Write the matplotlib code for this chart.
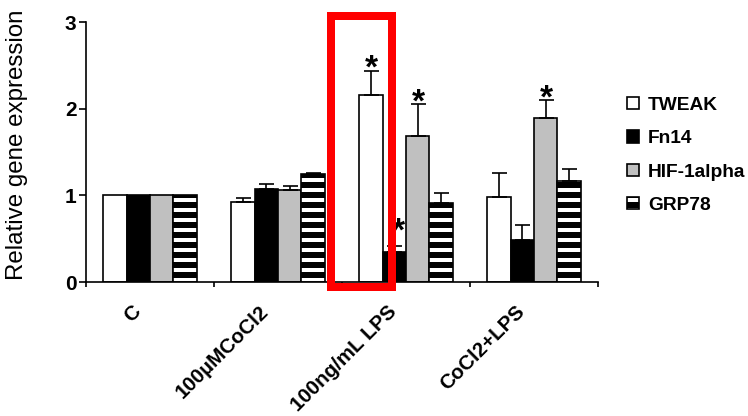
import matplotlib
matplotlib.use('agg')
import matplotlib.pyplot as plt
from matplotlib.patches import Rectangle, Patch
import numpy as np

plt.rcParams['font.family'] = ['Liberation Sans', 'DejaVu Sans']
plt.rcParams['hatch.linewidth'] = 3.6

treatments = ['C', '100\u00b5MCoCl2', '100ng/mL LPS', 'CoCl2+LPS']
genes = ['TWEAK', 'Fn14', 'HIF-1alpha', 'GRP78']

# mean relative expression, one list per gene (order follows treatments)
tweak = [1.00, 0.92, 2.16, 0.98]
fn14 = [1.00, 1.07, 0.35, 0.48]
hif1a = [1.00, 1.065, 1.68, 1.89]
grp78 = [1.00, 1.25, 0.91, 1.16]

# upper error (SD) for each bar
tweak_err = [0.0, 0.045, 0.28, 0.28]
fn14_err = [0.0, 0.06, 0.06, 0.18]
hif1a_err = [0.0, 0.045, 0.37, 0.21]
grp78_err = [0.0, 0.01, 0.12, 0.14]

# significance stars: (gene index, treatment index)
stars = [(0, 2), (1, 2), (2, 2), (2, 3)]

means = [tweak, fn14, hif1a, grp78]
errs = [tweak_err, fn14_err, hif1a_err, grp78_err]
faces = ['white', 'black', '#C0C0C0', 'white']
hatches = [None, None, None, '--']

fig = plt.figure(figsize=(748 / 120, 416 / 120), dpi=120)
ax = fig.add_axes([0.115, 0.3221, 0.6845, 0.625])

x = np.arange(len(treatments))
w = 0.183
handles = []
for i in range(len(genes)):
    pos = x + (i - 1.5) * w
    ax.bar(pos, means[i], w, color=faces[i], edgecolor='black',
           linewidth=1.0, hatch=hatches[i], zorder=2)
    up = np.array(errs[i])
    mask = up > 0
    ax.errorbar(pos[mask], np.array(means[i])[mask],
                yerr=[np.zeros(mask.sum()), up[mask]],
                fmt='none', ecolor='black', elinewidth=1.0,
                capsize=4.5, capthick=1.0, zorder=3)
    handles.append(Patch(facecolor=faces[i], edgecolor='black',
                         linewidth=1.0, hatch=hatches[i], label=genes[i]))

# the Fn14 star sits a little higher than the others
lift = {(1, 2): 8.0}
for g, t in stars:
    top = means[g][t] + errs[g][t]
    ax.annotate('*', xy=(x[t] + (g - 1.5) * w, top),
                xytext=(0.5 + (2.0 if (g, t) in lift else 0.0),
                        -4.5 + lift.get((g, t), 0.0)),
                textcoords='offset points', ha='center', va='baseline',
                fontsize=20, fontweight='bold', zorder=4)

ax.set_xlim(-0.5, 3.5)
ax.set_ylim(0, 3)
ax.set_yticks([0, 1, 2, 3])
ax.set_yticklabels(['0', '1', '2', '3'], fontsize=12.5, fontweight='bold')
ax.tick_params(axis='y', direction='out', length=4.2, width=1.0, pad=1.5)
ax.set_xticks(np.arange(-0.5, 4.0, 1.0))
ax.set_xticklabels([])
ax.tick_params(axis='x', direction='out', length=3.0, width=1.0)

for name in ['top', 'right']:
    ax.spines[name].set_visible(False)
for name in ['left', 'bottom']:
    ax.spines[name].set_linewidth(1.0)

ax.set_ylabel('Relative gene expression', fontsize=14.5)
ax.yaxis.set_label_coords(-0.113, 0.528)

# rotated category names, right end sitting just left of each group centre
for xi, lab in zip(x, treatments):
    ax.text(xi - 0.1, -0.31, lab, transform=ax.transData, rotation=45,
            rotation_mode='anchor', ha='right', va='center',
            fontsize=12.3, fontweight='bold')

# highlight box round the LPS TWEAK bar
ax.add_patch(Rectangle((1.414, -0.058), 0.477, 3.127, fill=False,
                       edgecolor='#FF0000', linewidth=4.8,
                       clip_on=False, zorder=5))

fig.legend(handles=handles, loc='upper left', bbox_to_anchor=(0.825, 0.79),
           frameon=False, prop={'size': 11.5, 'weight': 'bold'},
           handlelength=0.62, handleheight=0.62, handletextpad=0.5,
           labelspacing=0.85, borderpad=0)

fig.savefig('out.png', dpi=120)
